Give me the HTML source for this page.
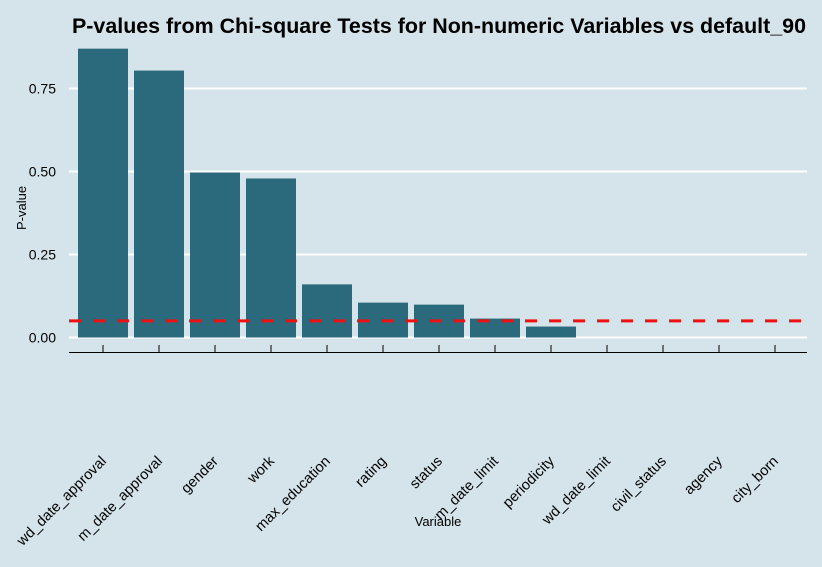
<!DOCTYPE html>
<html><head><meta charset="utf-8"><style>
body{margin:0;background:#d5e3ea}
svg{display:block;font-family:"Liberation Sans",Arial,sans-serif}
</style></head><body>
<svg id="chart" width="822" height="567">
<rect width="822" height="567" fill="#d5e3ea"/>
<text x="72" y="33" font-size="21" font-weight="bold" fill="#000" textLength="734" lengthAdjust="spacingAndGlyphs">P-values from Chi-square Tests for Non-numeric Variables vs default_90</text>
<text transform="translate(26,208) rotate(-90)" text-anchor="middle" font-size="13">P-value</text>
<text x="438" y="526" text-anchor="middle" font-size="13">Variable</text>
<g id="grid"></g><g id="bars"></g><g id="axes"></g>
</svg>
<script>
const categories=["wd_date_approval","m_date_approval","gender","work","max_education","rating","status","m_date_limit","periodicity","wd_date_limit","civil_status","agency","city_born"];
const pvalues=[0.870,0.804,0.497,0.479,0.160,0.105,0.099,0.057,0.033,0,0,0,0];
const yTicks=[0,0.25,0.5,0.75];
const yTickLabels=["0.00","0.25","0.50","0.75"];
const threshold=0.05;
const NS="http://www.w3.org/2000/svg";
const x0=103,step=56,bw=50;
const xs=i=>x0+i*step;
const ys=v=>337.5-v*332;
function mk(t,a,p){const e=document.createElementNS(NS,t);for(const k in a)e.setAttribute(k,a[k]);p.appendChild(e);return e;}
const grid=document.getElementById('grid'),bars=document.getElementById('bars'),axes=document.getElementById('axes');
yTicks.forEach((v,i)=>{
const l=mk('line',{x1:69,x2:807,y1:ys(v),y2:ys(v),stroke:'#fff','stroke-width':2},grid);


const t=mk('text',{x:56,y:ys(v)+5,'text-anchor':'end','font-size':14},grid);
t.textContent=yTickLabels[i];


});
categories.forEach((c,i)=>{
const v=pvalues[i];
const r=mk('rect',{x:xs(i)-bw/2,y:ys(v),width:bw,height:Math.max(0,ys(0)-ys(v)),fill:'#2b6a7c'},bars);


const tk=mk('line',{x1:xs(i),x2:xs(i),y1:345,y2:352,stroke:'#000'},axes);


const t=mk('text',{transform:`translate(${xs(i)+4},462) rotate(-45)`,'text-anchor':'end','font-size':14.6},axes);
t.textContent=c;


});
const ax=mk('line',{x1:69,x2:807,y1:352.5,y2:352.5,stroke:'#000','stroke-width':1},axes);


const th=mk('line',{x1:69,x2:807,y1:ys(threshold),y2:ys(threshold),stroke:'#ee1111','stroke-width':3,'stroke-dasharray':'12,12'},axes);


</script>
</body></html>
